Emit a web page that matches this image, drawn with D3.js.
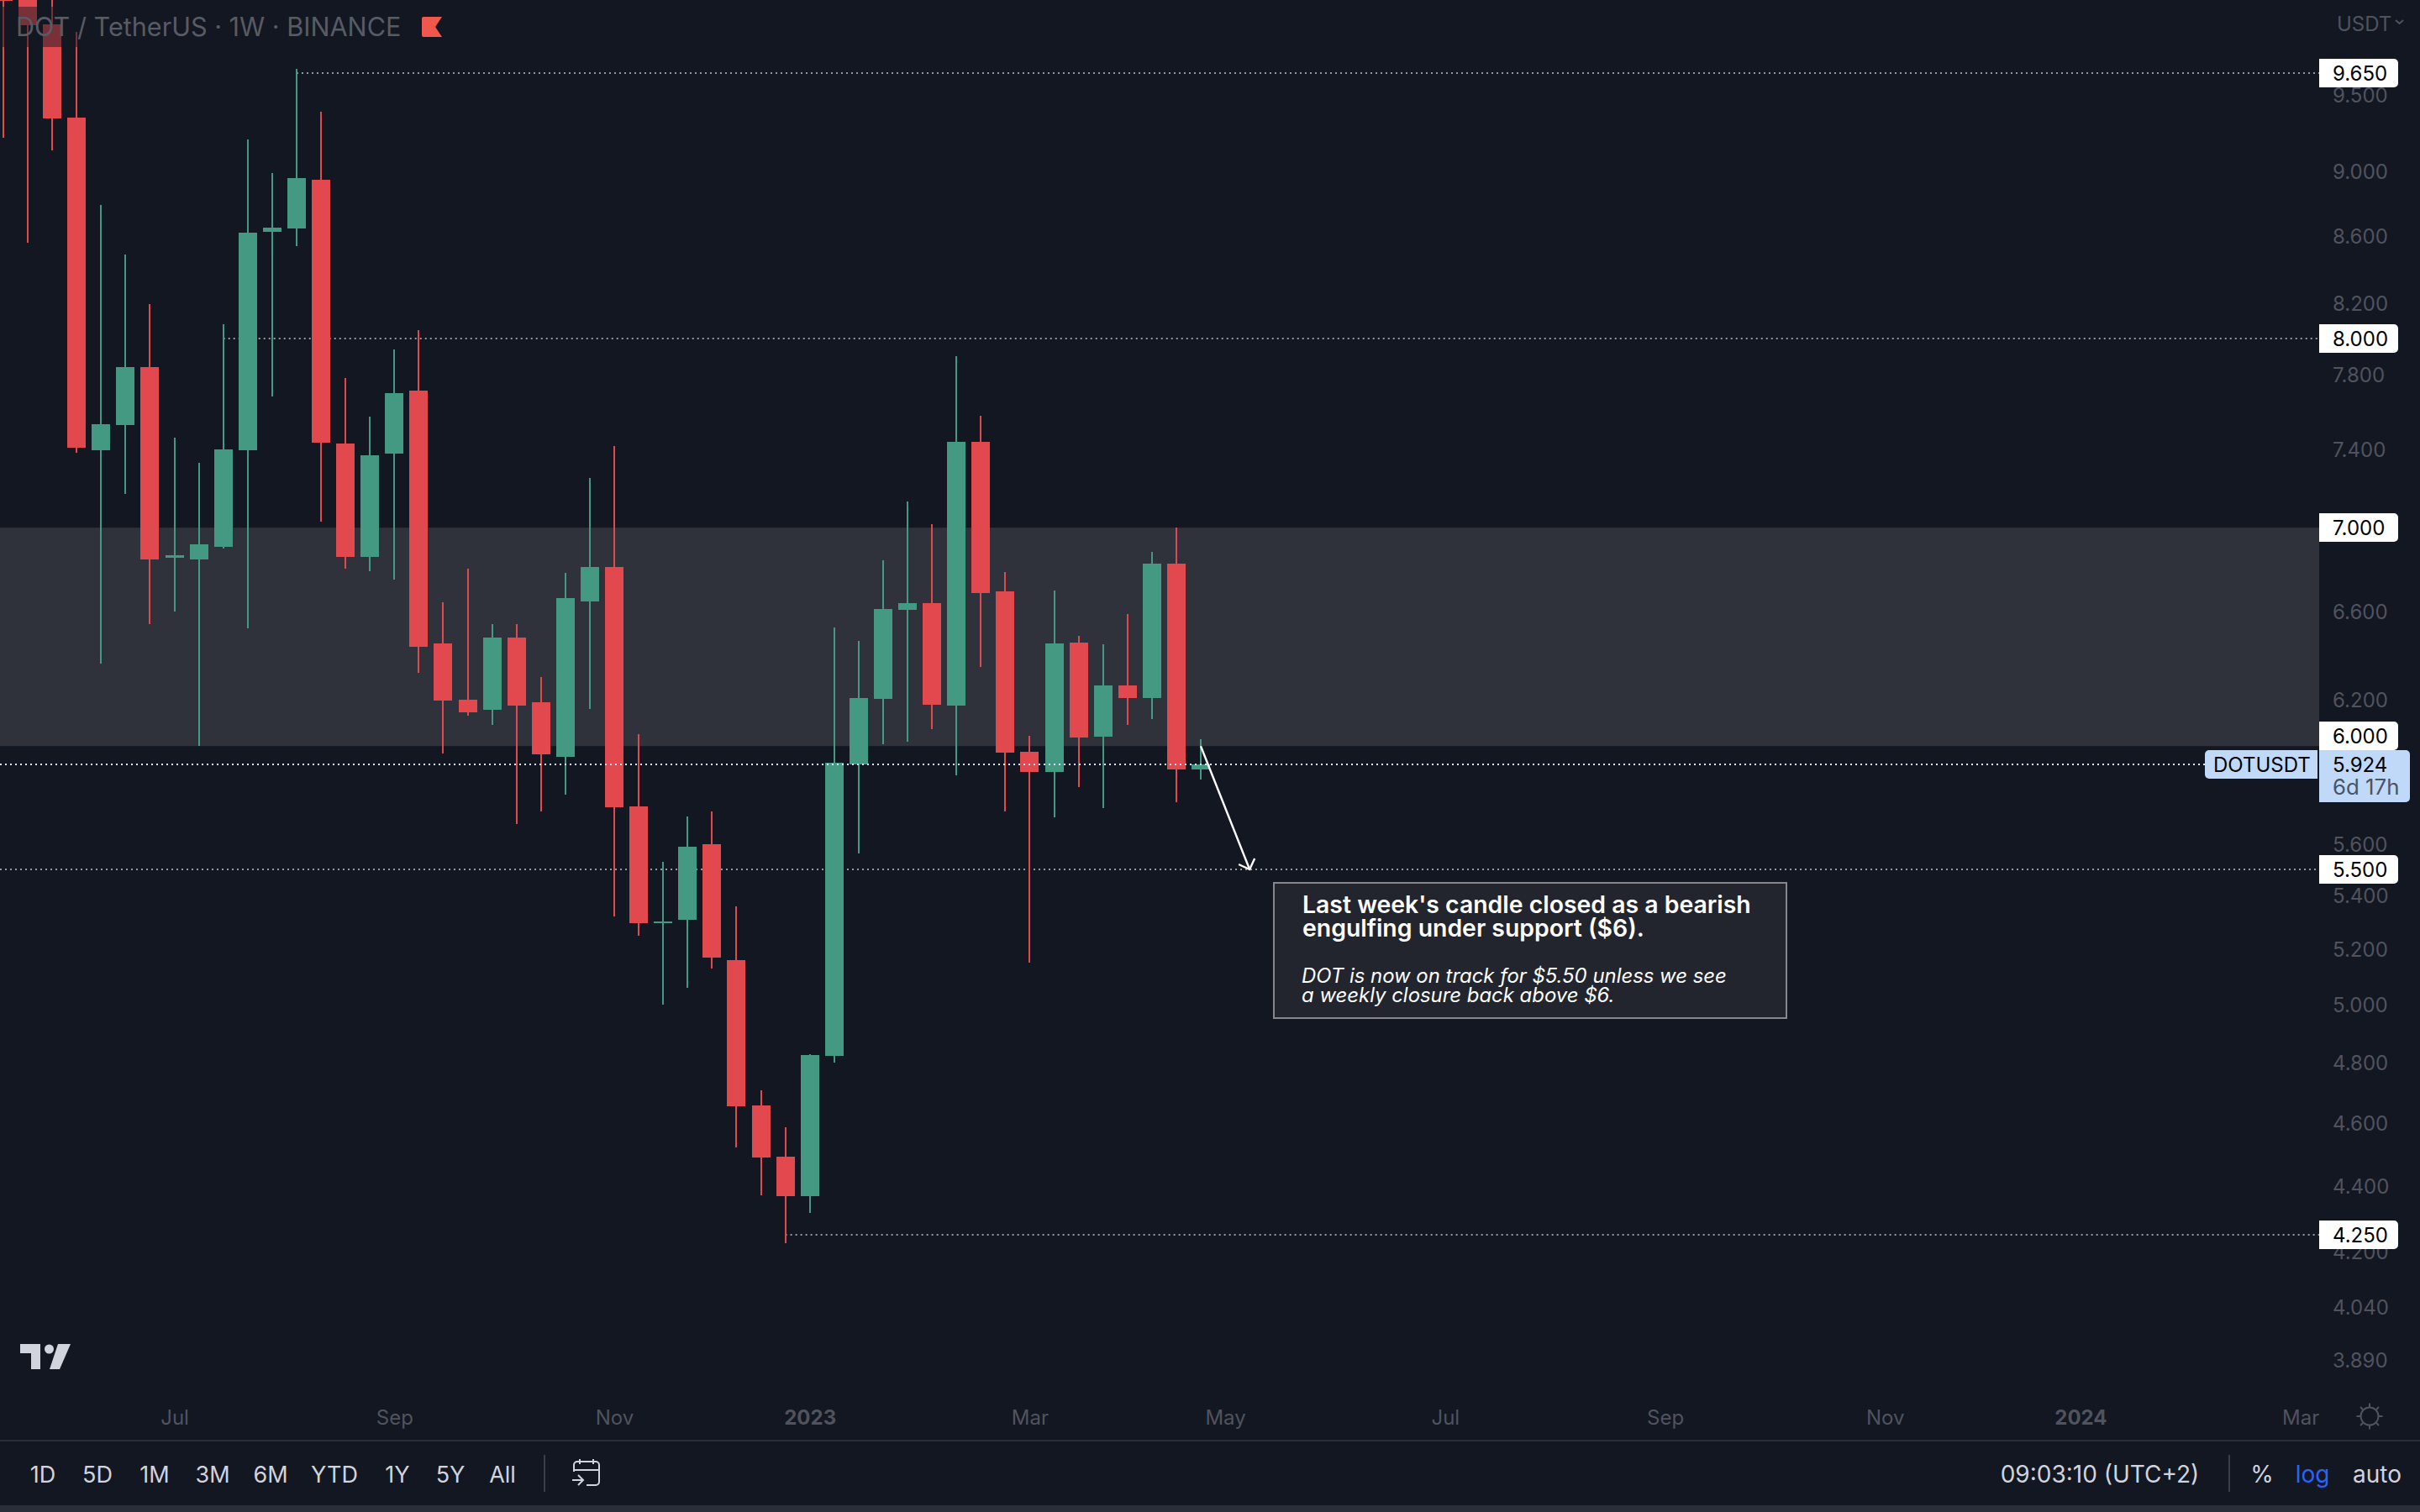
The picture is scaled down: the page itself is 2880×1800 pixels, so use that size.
<!DOCTYPE html>
<html>
<head>
<meta charset="utf-8">
<script src="https://cdn.jsdelivr.net/npm/d3@7"></script>
<style>
  html, body { margin: 0; background: #131722; }
  svg { display: block; font-family: Inter, Roboto, sans-serif; }
</style>
</head>
<body>
<div id="plot"></div>
<script>
// Weekly candles, DOT / TetherUS
const weekStarts = ["2022-05-16","2022-05-23","2022-05-30","2022-06-06","2022-06-13","2022-06-20","2022-06-27","2022-07-04","2022-07-11","2022-07-18",
  "2022-07-25","2022-08-01","2022-08-08","2022-08-15","2022-08-22","2022-08-29","2022-09-05","2022-09-12","2022-09-19","2022-09-26",
  "2022-10-03","2022-10-10","2022-10-17","2022-10-24","2022-10-31","2022-11-07","2022-11-14","2022-11-21","2022-11-28","2022-12-05",
  "2022-12-12","2022-12-19","2022-12-26","2023-01-02","2023-01-09","2023-01-16","2023-01-23","2023-01-30","2023-02-06","2023-02-13",
  "2023-02-20","2023-02-27","2023-03-06","2023-03-13","2023-03-20","2023-03-27","2023-04-03","2023-04-10","2023-04-17","2023-04-24"];
const opens = [10.525,10.217,9.984,9.348,7.392,7.525,7.839,6.852,6.844,6.905,
  7.392,8.624,8.645,8.947,7.427,6.856,7.375,7.710,6.450,6.199,
  6.155,6.477,6.188,5.954,6.644,6.808,5.749,5.295,5.307,5.598,
  5.158,4.656,4.490,4.367,4.821,5.922,6.203,6.605,6.636,6.173,
  7.436,6.692,5.975,5.891,6.454,6.039,6.262,6.206,6.824,5.901];
const highs = [10.906,10.401,10.278,9.934,8.789,8.487,8.196,7.458,7.327,8.080,
  9.205,8.990,9.675,9.387,7.779,7.570,7.937,8.046,6.640,6.800,
  6.539,6.539,6.299,6.779,7.249,7.414,6.050,5.529,5.709,5.729,
  5.358,4.706,4.584,4.827,6.523,6.462,6.840,7.130,7.017,7.900,
  7.574,6.784,6.043,6.696,6.485,6.446,6.585,6.881,7.000,6.029];
const lows = [9.216,8.558,9.135,7.379,6.359,7.170,6.539,6.597,6.000,6.897,
  6.519,7.678,8.538,7.029,6.800,6.788,6.747,6.318,5.968,6.130,
  6.090,5.678,5.729,5.797,6.159,5.320,5.248,4.999,5.059,5.128,
  4.520,4.370,4.224,4.315,4.799,5.562,6.007,6.018,6.072,5.877,
  6.344,5.729,5.149,5.705,5.828,5.743,6.090,6.115,5.767,5.860];
const closes = [10.151,9.978,9.343,7.408,7.529,7.839,6.844,6.864,6.918,7.397,
  8.619,8.650,8.958,7.432,6.856,7.366,7.696,6.435,6.195,6.144,
  6.477,6.173,5.965,6.660,6.808,5.746,5.295,5.301,5.588,5.168,
  4.653,4.488,4.367,4.824,5.929,6.206,6.609,6.636,6.177,7.436,
  6.684,5.972,5.891,6.450,6.036,6.262,6.206,6.824,5.901,5.924];

// Axis ticks
const priceTicks = [9.5,9,8.6,8.2,7.8,7.4,6.6,6.2,5.6,5.4,5.2,5,4.8,4.6,4.4,4.2,4.04,3.89];
const timeTicks = ["2022-07-04","2022-09-05","2022-11-07","2023-01-02","2023-03-06","2023-05-01","2023-07-03","2023-09-04","2023-11-06","2024-01-01","2024-03-04"];
const timeLabels = ["Jul","Sep","Nov","2023","Mar","May","Jul","Sep","Nov","2024","Mar"];

// Drawn levels
const levelPrices = [9.65, 8, 5.5, 4.25];
const levelStarts = ["2022-08-08","2022-07-18",null,"2022-12-26"];
const zonePrices = [7, 6];
const lastPrice = 5.924;
// second value is where the tag sits, the 6.000 one gets pushed up by the last price tag
const axisTags = [["9.650",9.65],["8.000",8],["7.000",7],["6.000",6.043],["5.500",5.5],["4.250",4.25]];
const rangeButtons = ["1D","5D","1M","3M","6M","YTD","1Y","5Y","All"];
const rangeButtonX = [51,116,184,253,322,398,473,536,598];

const width = 2880;
const height = 1800;
const paneRight = 2760;

const bg = "#131722";
const upColor = "#449983";
const downColor = "#e1494f";
const axisGrey = "#50535e";
const toolText = "#d1d4dc";
const tagBlue = "#c1d9f9";

const parseDay = d3.utcParse("%Y-%m-%d");

const svg = d3.select("#plot").append("svg")
  .attr("width", width)
  .attr("height", height);

// Scales
const x = d3.scaleUtc()
  .domain([parseDay(weekStarts[0]), parseDay(weekStarts[49])])
  .range([4, 1429]);

const y = d3.scaleLog()
  .domain([9.65, 4.25])
  .range([86.5, 1470]);

svg.append("rect").attr("width", width).attr("height", height).attr("fill", bg);

// Support zone
svg.append("rect")
  .attr("x", 0)
  .attr("y", y(zonePrices[0]))
  .attr("width", paneRight)
  .attr("height", y(zonePrices[1]) - y(zonePrices[0]))
  .attr("fill", "#2f323b");

// Horizontal levels
svg.append("g").selectAll("line")
  .data(levelPrices)
  .enter().append("line")
  .attr("x1", (d, i) => levelStarts[i] ? x(parseDay(levelStarts[i])) : 0)
  .attr("x2", paneRight)
  .attr("y1", d => Math.round(y(d)))
  .attr("y2", d => Math.round(y(d)))
  .attr("stroke", "#9598a1")
  .attr("stroke-width", 2)
  .attr("stroke-dasharray", "2 4");

// Candles
const candles = weekStarts.map((d, i) => ({
  date: parseDay(d), open: opens[i], high: highs[i], low: lows[i], close: closes[i]
}));
const candleColor = d => d.close >= d.open ? upColor : downColor;

const candle = svg.append("g")
  .attr("shape-rendering", "crispEdges")
  .selectAll("g")
  .data(candles)
  .enter().append("g");

candle.append("rect")
  .attr("x", d => Math.round(x(d.date)) - 1)
  .attr("y", d => y(d.high))
  .attr("width", 2)
  .attr("height", d => y(d.low) - y(d.high))
  .attr("fill", candleColor);

candle.append("rect")
  .attr("x", d => Math.round(x(d.date)) - 11)
  .attr("y", d => y(Math.max(d.open, d.close)))
  .attr("width", 22)
  .attr("height", d => Math.max(2, Math.abs(y(d.open) - y(d.close))))
  .attr("fill", candleColor);

// Last price line
svg.append("line")
  .attr("x1", 0)
  .attr("x2", 2624)
  .attr("y1", Math.round(y(lastPrice)))
  .attr("y2", Math.round(y(lastPrice)))
  .attr("stroke", "#dbe8fb")
  .attr("stroke-width", 2)
  .attr("stroke-dasharray", "2 4");

// Legend strip dims the candles behind the title
svg.append("rect")
  .attr("x", 0).attr("y", 8).attr("width", 490).attr("height", 48)
  .attr("fill", bg).attr("opacity", 0.5);

svg.append("text")
  .attr("x", 19).attr("y", 43)
  .attr("font-size", 30.6)
  .attr("fill", "#585b64")
  .text("DOT / TetherUS · 1W · BINANCE");

svg.append("path")
  .attr("d", "M502 22a2 2 0 0 1 2-2H526L518 32L526 44H504a2 2 0 0 1-2-2Z")
  .attr("fill", "#f0584e");

// Arrow annotation
const arrowEnd = [x(parseDay("2023-05-08")), y(5.5)];
svg.append("path")
  .attr("d", d3.line()([[x(parseDay("2023-04-24")), y(6)], arrowEnd]))
  .attr("stroke", "#fff").attr("stroke-width", 2.4).attr("fill", "none");
svg.append("path")
  .attr("d", `M${arrowEnd[0] - 13} ${arrowEnd[1] - 6}L${arrowEnd[0]} ${arrowEnd[1]}L${arrowEnd[0] + 6} ${arrowEnd[1] - 13}`)
  .attr("stroke", "#fff").attr("stroke-width", 2.4).attr("fill", "none");

// Note box
svg.append("rect")
  .attr("x", 1516).attr("y", 1051).attr("width", 610).attr("height", 161)
  .attr("fill", "#22252e").attr("stroke", "#85878d").attr("stroke-width", 2);

const note = svg.append("g").attr("fill", "#fff");
note.append("text").attr("x", 1550).attr("y", 1087).attr("font-size", 28.4).attr("font-weight", 600)
  .text("Last week's candle closed as a bearish");
note.append("text").attr("x", 1550).attr("y", 1115).attr("font-size", 28.4).attr("font-weight", 600)
  .text("engulfing under support ($6).");
note.append("text").attr("x", 1549).attr("y", 1170).attr("font-size", 23.9).attr("font-style", "italic")
  .text("DOT is now on track for $5.50 unless we see");
note.append("text").attr("x", 1549).attr("y", 1193).attr("font-size", 23.9).attr("font-style", "italic")
  .text("a weekly closure back above $6.");

// Price axis
const priceAxis = svg.append("g")
  .attr("transform", `translate(${paneRight},0)`)
  .call(d3.axisRight(y).tickValues(priceTicks).tickFormat(d3.format(".3f")).tickSize(0).tickPadding(16));
priceAxis.select(".domain").remove();
priceAxis.selectAll("text")
  .attr("font-family", "Inter, Roboto, sans-serif")
  .attr("font-size", 24)
  .attr("dy", "0.36em")
  .attr("fill", axisGrey);

svg.append("text")
  .attr("x", 2781).attr("y", 37)
  .attr("font-size", 24).attr("fill", axisGrey)
  .text("USDT");
svg.append("path")
  .attr("d", "M2851 24l4.5 4l4.5-4")
  .attr("fill", "none").attr("stroke", axisGrey).attr("stroke-width", 2);

// Time axis
const timeAxis = svg.append("g")
  .attr("transform", "translate(0,1679)")
  .call(d3.axisBottom(x)
    .tickValues(timeTicks.map(parseDay))
    .tickFormat((d, i) => timeLabels[i])
    .tickSize(0).tickPadding(0));
timeAxis.select(".domain").remove();
timeAxis.selectAll("text")
  .attr("font-family", "Inter, Roboto, sans-serif")
  .attr("font-size", 24)
  .attr("fill", axisGrey)
  .attr("font-weight", (d, i) => timeLabels[i].length === 4 ? 700 : 400);

// Axis tags for the drawn levels
const tagPath = (x0, y0, w, h) =>
  `M${x0} ${y0}H${x0 + w - 5}a5 5 0 0 1 5 5V${y0 + h - 5}a5 5 0 0 1-5 5H${x0}Z`;

const tags = svg.append("g").selectAll("g")
  .data(axisTags)
  .enter().append("g")
  .attr("transform", d => `translate(${paneRight},${Math.round(y(d[1])) - 17})`);
tags.append("path").attr("d", tagPath(0, 0, 94, 34)).attr("fill", "#fff");
tags.append("text")
  .attr("x", 16).attr("y", 25.5)
  .attr("font-size", 24).attr("fill", "#000")
  .text(d => d[0]);

// Last price tag
const lastY = Math.round(y(lastPrice));
svg.append("path").attr("d", tagPath(paneRight, lastY - 17, 108, 62)).attr("fill", tagBlue);
svg.append("text").attr("x", 2776).attr("y", lastY + 8.5).attr("font-size", 24).attr("fill", "#000")
  .text(d3.format(".3f")(lastPrice));
svg.append("text").attr("x", 2776).attr("y", lastY + 36).attr("font-size", 25.8).attr("fill", "#4a5563")
  .text("6d 17h");
svg.append("path")
  .attr("d", `M2758 ${lastY - 17}H2629a5 5 0 0 0-5 5V${lastY + 12}a5 5 0 0 0 5 5H2758Z`)
  .attr("fill", tagBlue);
svg.append("text").attr("x", 2634).attr("y", lastY + 8.5).attr("font-size", 24).attr("fill", "#000")
  .text("DOTUSDT");

// TradingView mark
svg.append("path")
  .attr("d", "M24 1600H48V1630H37V1611H24ZM69 1600H84L71 1630H59Z")
  .attr("fill", toolText);
svg.append("circle").attr("cx", 58.5).attr("cy", 1606).attr("r", 5.5).attr("fill", toolText);

// Settings sun
const sun = svg.append("g")
  .attr("transform", "translate(2820,1686)")
  .attr("fill", "none").attr("stroke", axisGrey).attr("stroke-width", 2);
sun.append("circle").attr("r", 10.5);
sun.selectAll("line")
  .data(d3.range(8))
  .enter().append("line")
  .attr("y1", -11).attr("y2", -15.5)
  .attr("transform", d => `rotate(${d * 45})`);

// Bottom toolbar
svg.append("rect").attr("x", 0).attr("y", 1714).attr("width", width).attr("height", 2).attr("fill", "#2a2e39");
svg.append("rect").attr("x", 0).attr("y", 1792).attr("width", width).attr("height", 8).attr("fill", "#2a2e39");

svg.append("g").selectAll("text")
  .data(rangeButtons)
  .enter().append("text")
  .attr("x", (d, i) => rangeButtonX[i])
  .attr("y", 1764.5)
  .attr("text-anchor", "middle")
  .attr("font-size", 27)
  .attr("fill", toolText)
  .text(d => d);

svg.selectAll(".sep")
  .data([647, 2652])
  .enter().append("rect")
  .attr("class", "sep")
  .attr("x", d => d).attr("y", 1732).attr("width", 2).attr("height", 44)
  .attr("fill", "#3a3e49");

// Calendar with arrow
svg.append("path")
  .attr("d", "M683 1752V1744a4 4 0 0 1 4-4H709a4 4 0 0 1 4 4V1764a4 4 0 0 1-4 4H698M683 1750H713M690 1737V1743M706 1737V1743M681 1762H694M688 1756L694 1762L688 1768")
  .attr("fill", "none").attr("stroke", toolText).attr("stroke-width", 2);

const rightTexts = [["09:03:10 (UTC+2)", 2499, toolText], ["%", 2692, toolText], ["log", 2752, "#2962ff"], ["auto", 2829, toolText]];
svg.append("g").selectAll("text")
  .data(rightTexts)
  .enter().append("text")
  .attr("x", d => d[1]).attr("y", 1765)
  .attr("text-anchor", "middle")
  .attr("font-size", 28)
  .attr("fill", d => d[2])
  .text(d => d[0]);
</script>
</body>
</html>
